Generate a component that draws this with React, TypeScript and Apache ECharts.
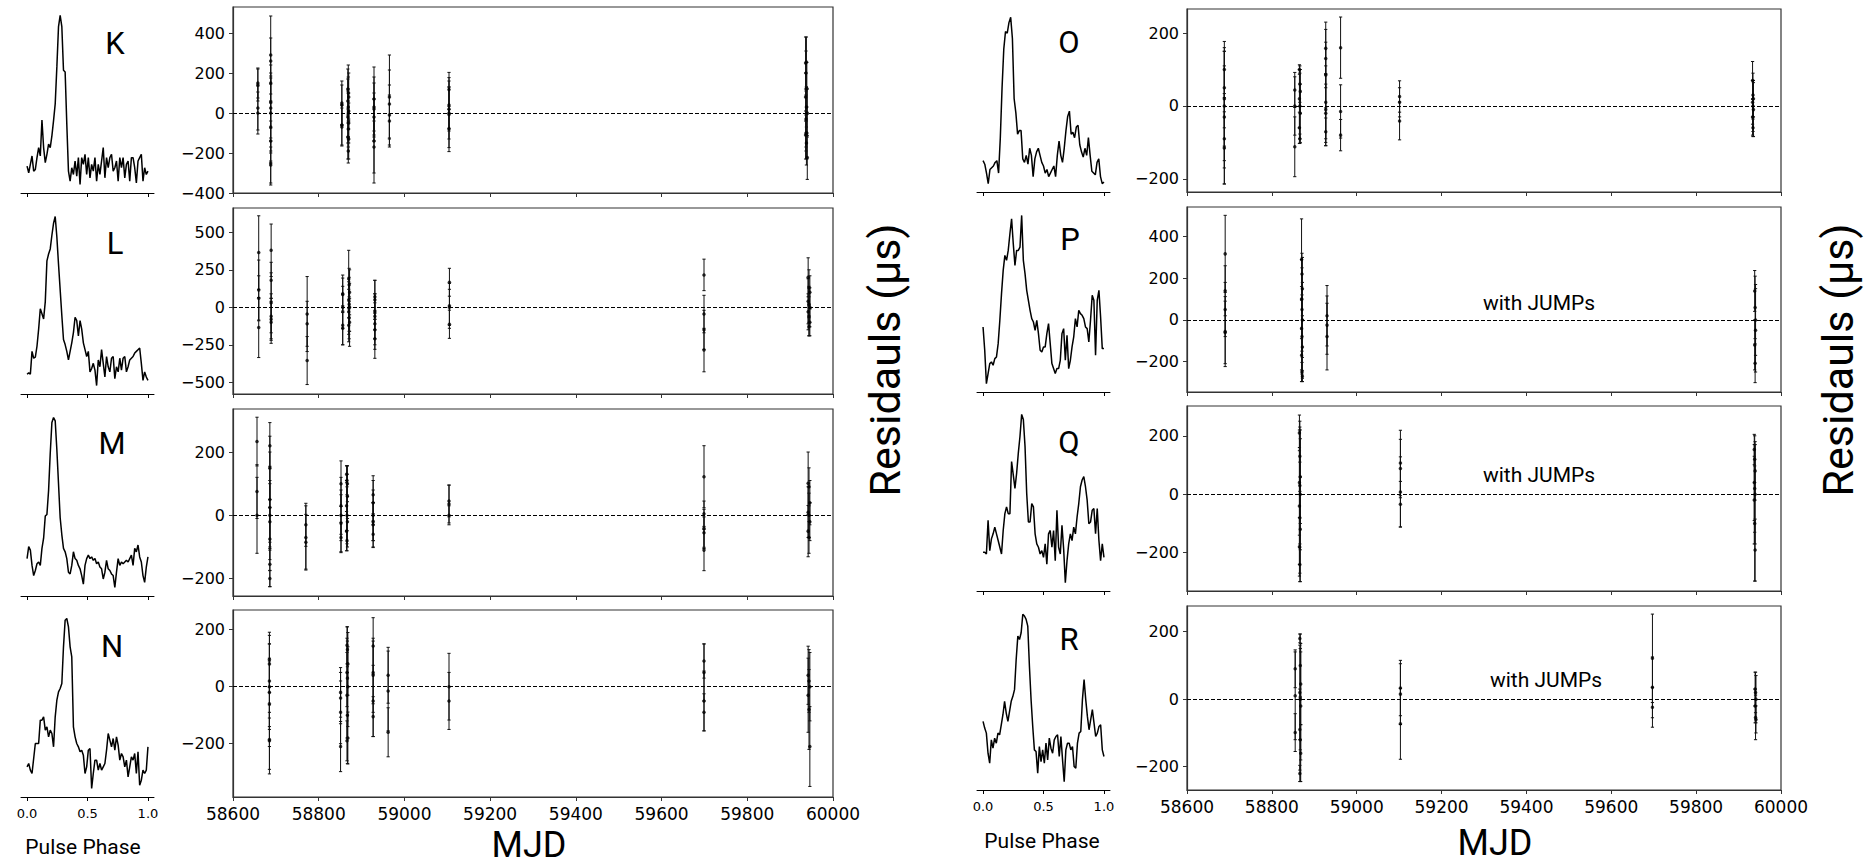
import React, { useEffect, useRef } from "react";
import * as echarts from "echarts";

type Pt = [number, number, number]; // [MJD, residual (µs), error (µs)]

// ---------------- Timing residuals ----------------
const RES_K: Pt[] = [
  [58658, 150, 75], [58658, 140, 80], [58658, 25, 110], [58658, 0, 105],
  [58688, 290, 195], [58688, 260, 115], [58688, 150, 90], [58688, 55, 130], [58688, 25, 150], [58688, -70, 120],
  [58688, -140, 100], [58688, -250, 110], [58688, -260, 90], [58688, 0, 200],
  [58854, 50, 110], [58854, 40, 100], [58854, -60, 100], [58854, -70, 95],
  [58868, 120, 100], [58869, 100, 140], [58870, 80, 120], [58868, 60, 110], [58869, 30, 150], [58870, 10, 90],
  [58869, 0, 120], [58868, -20, 130], [58870, -50, 100], [58869, -80, 90], [58868, -120, 110], [58870, -130, 100], [58869, -190, 60],
  [58929, 70, 160], [58929, 30, 150], [58929, 20, 130], [58929, -20, 120], [58929, -140, 210], [58929, -170, 130],
  [58965, 80, 210], [58965, 45, 170], [58965, -10, 150], [58965, -40, 130],
  [59104, 118, 85], [59104, 40, 120], [59104, 20, 110], [59104, 0, 130], [59104, -8, 185], [59104, -78, 95],
  [59936, 250, 130], [59938, 255, 125], [59937, 200, 110], [59939, 123, 130], [59936, 80, 120], [59938, 30, 100],
  [59940, 0, 120], [59937, -30, 140], [59939, -100, 130], [59936, -110, 120], [59938, -150, 110], [59940, -222, 110], [59937, -100, 90],
];

const RES_L: Pt[] = [
  [58660, 365, 245], [58660, 115, 200], [58660, 60, 150], [58660, -135, 200],
  [58689, 380, 175], [58689, 180, 120], [58689, 30, 200], [58689, -60, 150], [58689, -80, 140], [58689, -100, 140],
  [58773, -45, 250], [58773, -110, 150], [58773, -355, 160],
  [58856, 90, 125], [58856, 85, 110], [58856, 0, 140], [58856, -120, 130], [58856, -140, 110],
  [58870, 190, 190], [58871, 150, 110], [58872, 100, 150], [58870, 50, 120], [58871, 20, 180], [58872, 0, 160],
  [58870, -30, 150], [58871, -70, 140], [58872, -100, 160], [58870, -120, 110],
  [58931, 70, 110], [58931, 50, 130], [58931, -30, 120], [58931, -60, 150], [58931, -110, 140], [58931, -150, 130], [58931, -210, 130],
  [59105, 167, 93], [59105, 10, 150], [59105, 0, 120], [59105, -113, 94],
  [59699, 216, 105], [59699, -45, 125], [59699, -150, 130], [59699, -285, 145],
  [59942, 200, 130], [59944, 130, 120], [59946, 100, 110], [59942, 40, 150], [59944, 20, 120], [59946, 0, 130],
  [59942, -30, 120], [59944, -60, 130], [59946, -100, 90], [59944, -130, 60],
];

const RES_M: Pt[] = [
  [58656, 233, 77], [58656, 75, 85], [58656, 0, 120],
  [58686, 220, 73], [58686, 150, 100], [58686, 50, 150], [58686, 25, 130], [58686, 0, 110], [58686, -20, 120],
  [58686, -75, 100], [58686, -155, 70], [58686, -200, 26],
  [58770, -30, 68], [58770, -70, 100], [58770, -85, 88],
  [58852, 100, 72], [58852, 30, 90], [58852, 0, 80], [58852, -25, 90], [58852, -70, 48],
  [58865, 130, 27], [58866, 110, 45], [58867, 60, 70], [58865, 30, 80], [58866, 0, 90], [58867, -20, 80],
  [58865, -50, 62], [58866, -80, 32], [58867, 100, 57],
  [58927, 65, 60], [58927, 40, 70], [58927, 0, 80], [58927, -20, 60], [58927, -30, 70], [58927, -60, 42],
  [59104, 36, 60], [59104, 45, 50], [59104, 0, 30],
  [59699, 122, 98], [59699, 5, 40], [59699, -41, 60], [59699, -55, 50], [59699, -110, 65],
  [59942, 101, 99], [59944, 90, 60], [59946, 40, 70], [59942, 10, 80], [59944, 0, 70], [59946, -20, 60],
  [59942, -50, 81], [59944, -70, 50],
];

const RES_N: Pt[] = [
  [58685, 95, 96], [58685, 80, 100], [58685, 20, 130], [58685, 0, 150], [58685, -20, 120], [58685, -60, 150],
  [58685, -185, 121], [58685, -190, 100],
  [58851, -20, 87], [58851, -40, 90], [58851, -90, 110], [58851, -210, 88],
  [58866, 145, 65], [58867, 130, 80], [58868, 80, 110], [58866, 50, 120], [58867, 30, 130], [58868, 0, 140],
  [58866, -30, 150], [58867, -100, 170], [58868, -180, 91], [58866, -190, 70],
  [58927, 143, 99], [58927, 50, 110], [58927, 40, 130], [58927, -50, 125], [58927, -105, 70],
  [58962, 40, 98], [58962, -15, 140], [58962, -160, 86],
  [59104, 0, 117], [59104, -50, 100],
  [59699, 90, 60], [59699, 50, 100], [59699, -50, 105], [59699, -90, 65],
  [59942, 40, 102], [59944, 20, 110], [59946, 0, 120], [59942, -30, 130], [59944, -80, 140], [59946, -210, 140],
];

const RES_O: Pt[] = [
  [58688, 100, 77], [58688, 50, 110], [58688, 20, 130], [58688, 0, 150], [58688, -30, 140], [58688, -90, 124], [58688, -115, 99],
  [58854, 44, 48], [58854, 0, 80], [58854, -112, 82],
  [58865, 100, 13], [58866, 60, 50], [58867, 40, 60], [58865, 20, 80], [58866, 0, 90], [58867, -20, 80], [58865, -60, 43], [58866, -90, 13],
  [58927, 158, 72], [58927, 130, 80], [58927, 85, 90], [58927, 10, 100], [58927, -10, 99], [58927, -20, 80], [58927, -71, 38],
  [58962, 160, 84], [58962, -15, 73], [58962, -80, 43],
  [59101, 26, 43], [59101, 10, 40], [59101, -41, 52],
  [59933, 70, 52], [59934, 30, 60], [59935, 20, 50], [59933, 10, 60], [59934, 0, 70], [59935, -10, 74], [59933, -30, 50], [59934, -60, 24],
];

const RES_P: Pt[] = [
  [58690, 317, 185], [58690, 140, 120], [58690, 50, 130], [58690, -56, 168], [58690, -60, 150],
  [58870, 290, 195], [58871, 220, 100], [58872, 150, 150], [58870, 100, 190], [58871, 50, 200], [58872, 0, 180],
  [58870, -40, 200], [58871, -80, 180], [58872, -130, 150], [58870, -170, 126], [58871, -250, 46], [58872, -270, 26],
  [58930, 20, 145], [58930, -25, 140], [58930, -80, 160],
  [59938, 139, 98], [59939, 60, 150], [59940, 0, 170], [59938, -120, 120], [59939, -208, 93], [59940, -50, 200],
];

const RES_Q: Pt[] = [
  [58865, 210, 61], [58866, 130, 120], [58867, 60, 160], [58865, 40, 180], [58866, 30, 200], [58867, 0, 190],
  [58865, -40, 200], [58866, -80, 190], [58867, -120, 179], [58865, -180, 100], [58866, -240, 59],
  [59103, 107, 112], [59103, 88, 100], [59103, 8, 120], [59103, -34, 78],
  [59937, 153, 52], [59938, 120, 80], [59939, 80, 100], [59937, 40, 130], [59938, 20, 150], [59939, 0, 170],
  [59937, -20, 150], [59938, -100, 197], [59939, -191, 106],
];

const RES_R: Pt[] = [
  [58855, 90, 56], [58855, 10, 130], [58855, -99, 56],
  [58866, 180, 13], [58867, 100, 93], [58868, 45, 120], [58866, 20, 140], [58867, 0, 150], [58868, -20, 160],
  [58866, -90, 120], [58867, -120, 124], [58868, -160, 84], [58866, -220, 24],
  [59103, 33, 82], [59103, 15, 90], [59103, -73, 105],
  [59697, 121, 131], [59697, 35, 90], [59697, -24, 59],
  [59939, 30, 50], [59940, 20, 60], [59941, 0, 70], [59939, -20, 50], [59940, -54, 66], [59941, -60, 40],
];

// ---------------- Pulse profiles (intensity, arbitrary units, uniform phase bins 0..1) ----------------
const PROF_K = [105, 85, 110, 135, 90, 95, 130, 160, 135, 242, 160, 115, 140, 170, 160, 195, 240, 290, 400, 520, 553, 520, 390, 385, 230, 90, 60, 100, 80, 120, 75, 130, 50, 130, 110, 140, 80, 130, 70, 110, 90, 130, 60, 110, 80, 120, 160, 70, 130, 100, 130, 140, 90, 100, 120, 60, 130, 100, 130, 70, 110, 120, 60, 130, 130, 100, 55, 120, 130, 140, 60, 100, 80, 90];
const PROF_L = [88, 92, 88, 155, 135, 138, 170, 220, 280, 265, 250, 300, 420, 440, 455, 495, 530, 550, 490, 410, 335, 260, 190, 175, 155, 130, 155, 180, 210, 255, 245, 200, 245, 220, 180, 160, 140, 155, 95, 105, 120, 100, 55, 130, 110, 160, 120, 80, 140, 110, 95, 135, 140, 75, 110, 95, 135, 100, 135, 140, 95, 110, 130, 135, 140, 150, 155, 160, 165, 120, 70, 95, 80, 70];
const PROF_M = [130, 165, 155, 110, 80, 95, 115, 120, 110, 160, 190, 255, 260, 330, 440, 530, 545, 535, 450, 350, 250, 200, 160, 150, 130, 90, 85, 110, 150, 130, 125, 110, 100, 80, 55, 110, 130, 140, 130, 135, 125, 130, 115, 120, 105, 100, 70, 90, 125, 100, 95, 85, 80, 45, 90, 130, 110, 120, 115, 120, 125, 120, 130, 140, 110, 160, 150, 170, 135, 120, 80, 60, 105, 135];
const PROF_N = [100, 110, 90, 80, 125, 170, 170, 170, 240, 240, 250, 210, 220, 190, 210, 200, 160, 250, 300, 325, 335, 350, 460, 540, 545, 520, 460, 430, 220, 190, 170, 160, 145, 150, 135, 80, 100, 150, 155, 35, 80, 120, 120, 90, 110, 90, 100, 110, 150, 200, 180, 160, 185, 150, 190, 165, 120, 140, 130, 100, 120, 70, 100, 130, 120, 140, 80, 145, 45, 60, 90, 80, 90, 160];
const PROF_O = [145, 135, 110, 80, 120, 125, 130, 140, 145, 110, 210, 350, 460, 510, 505, 535, 550, 490, 320, 280, 220, 230, 230, 150, 140, 160, 135, 180, 160, 100, 150, 170, 180, 160, 140, 130, 110, 120, 100, 110, 120, 130, 100, 160, 200, 160, 140, 180, 230, 270, 285, 220, 225, 210, 240, 245, 190, 170, 155, 180, 160, 210, 160, 115, 110, 105, 140, 150, 100, 80, 85];
const PROF_P = [220, 150, 50, 80, 110, 115, 105, 125, 130, 170, 240, 320, 390, 435, 420, 450, 500, 545, 470, 405, 450, 450, 460, 555, 420, 380, 330, 300, 270, 245, 235, 210, 240, 200, 150, 145, 160, 160, 200, 230, 170, 110, 95, 80, 95, 95, 120, 200, 215, 120, 195, 95, 120, 160, 190, 245, 220, 270, 260, 255, 245, 220, 215, 175, 240, 315, 300, 135, 300, 330, 250, 155, 155];
const PROF_Q = [145, 145, 140, 240, 150, 185, 200, 220, 200, 180, 160, 140, 210, 260, 280, 260, 260, 415, 375, 335, 380, 440, 490, 555, 540, 460, 320, 235, 235, 290, 280, 200, 170, 160, 140, 150, 130, 170, 110, 200, 210, 160, 210, 120, 270, 160, 140, 225, 155, 55, 120, 170, 200, 180, 220, 200, 250, 290, 340, 360, 370, 340, 300, 230, 235, 270, 275, 200, 275, 180, 120, 170, 130];
const PROF_R = [235, 215, 200, 140, 110, 180, 155, 185, 170, 200, 195, 225, 255, 295, 260, 235, 265, 295, 310, 330, 420, 490, 480, 500, 555, 550, 540, 520, 400, 300, 220, 150, 145, 80, 160, 115, 150, 110, 170, 120, 185, 155, 140, 180, 190, 195, 130, 190, 120, 55, 150, 170, 170, 150, 160, 100, 95, 170, 200, 205, 300, 360, 300, 250, 210, 240, 270, 230, 190, 200, 220, 225, 150, 130];

const NAMES = ["K", "L", "M", "N", "O", "P", "Q", "R"];
const RESIDUALS = [RES_K, RES_L, RES_M, RES_N, RES_O, RES_P, RES_Q, RES_R];
const PROFILES = [PROF_K, PROF_L, PROF_M, PROF_N, PROF_O, PROF_P, PROF_Q, PROF_R];
const Y_TICKS = [
  [-400, -200, 0, 200, 400],
  [-500, -250, 0, 250, 500],
  [-200, 0, 200],
  [-200, 0, 200],
  [-200, 0, 200],
  [-200, 0, 200, 400],
  [-200, 0, 200],
  [-200, 0, 200],
];
const Y_LIMITS = [
  [-400, 530], [-578, 662], [-255, 336], [-387, 269],
  [-236, 266], [-346, 542], [-331, 302], [-269, 276],
];
const JUMPS = [false, false, false, false, false, true, true, true];
const PHASE_TICKS = [0, 0.5, 1];

// ---------------- Layout ----------------
const COLS = [
  { profLeft: 21, profWidth: 133, resLeft: 233, resWidth: 600, rows: [[7, 193], [208, 394], [409, 596], [610, 797]] },
  { profLeft: 977, profWidth: 133, resLeft: 1187, resWidth: 594, rows: [[9, 192], [207, 392], [406, 591], [606, 790]] },
];
const LETTER_POS = [[115, 43], [115, 243], [112, 443], [112, 646], [1069, 42], [1070, 239], [1069, 442], [1069, 639]];
const JUMP_POS: Record<number, number[]> = { 5: [1539, 303], 6: [1539, 475], 7: [1546, 680] };

const TICK_FONT = "DejaVu Sans";
const TEXT_FONT = "Roboto";
const minus = (v: number) => String(v).replace("-", "\u2212");

export default function App() {
  const ref = useRef<HTMLDivElement>(null);
  useEffect(() => {
    document.body.style.margin = "0";
    document.body.style.overflow = "hidden";
    const chart = echarts.init(ref.current!, null, { renderer: "svg" });
    const grid: any[] = [];
    const xAxis: any[] = [];
    const yAxis: any[] = [];
    const series: any[] = [];

    NAMES.forEach((name, i) => {
      const col = COLS[i < 4 ? 0 : 1];
      const row = i % 4;
      const [top, bottom] = col.rows[row];
      const h = bottom - top;
      const isBottom = row === 3;

      // profile panel
      const gp = grid.length;
      grid.push({ left: col.profLeft, top, width: col.profWidth, height: h, containLabel: false, outerBoundsMode: "none" });
      xAxis.push({
        gridIndex: gp, type: "value", min: -0.05, max: 1.05,
        axisLine: { show: true, onZero: false, lineStyle: { color: "#000", width: 1 } },
        axisTick: { show: true, length: 4, customValues: PHASE_TICKS, lineStyle: { color: "#000" } },
        axisLabel: { show: isBottom, customValues: PHASE_TICKS, formatter: (v: number) => v.toFixed(1), fontFamily: TICK_FONT, fontSize: 13, color: "#000", margin: 10 },
        splitLine: { show: false },
      });
      yAxis.push({
        gridIndex: gp, type: "value", show: false,
        min: (v: any) => v.min - 0.05 * (v.max - v.min),
        max: (v: any) => v.max + 0.05 * (v.max - v.min),
        axisLine: { onZero: false }, splitLine: { show: false },
      });
      const prof = PROFILES[i];
      series.push({
        type: "line", xAxisIndex: gp, yAxisIndex: gp, silent: true,
        data: prof.map((v, k) => [k / (prof.length - 1), v]),
        symbol: "none", showSymbol: false,
        lineStyle: { color: "#000", width: 1.5 },
      });

      // residual panel
      const gr = grid.length;
      grid.push({
        left: col.resLeft, top, width: col.resWidth, height: h, containLabel: false, outerBoundsMode: "none",
        show: true, borderColor: "#333", borderWidth: 1.2, backgroundColor: "transparent",
      });
      xAxis.push({
        gridIndex: gr, type: "value", min: 58600, max: 60000, interval: 200,
        axisLine: { show: true, onZero: false, lineStyle: { color: "#333", width: 1.2 } },
        axisTick: { show: true, length: 4, lineStyle: { color: "#333" } },
        axisLabel: { show: isBottom, formatter: (v: number) => String(v), fontFamily: TICK_FONT, fontSize: 17, color: "#000", margin: 8, showMinLabel: true, showMaxLabel: true },
        splitLine: { show: false },
      });
      const ticks = Y_TICKS[i];
      yAxis.push({
        gridIndex: gr, type: "value", min: Y_LIMITS[i][0], max: Y_LIMITS[i][1],
        axisLine: { show: true, onZero: false, lineStyle: { color: "#333", width: 1.2 } },
        axisTick: { show: true, length: 4, customValues: ticks, lineStyle: { color: "#333" } },
        axisLabel: { show: true, customValues: ticks, formatter: minus, fontFamily: TICK_FONT, fontSize: 16, color: "#000", margin: 8 },
        splitLine: { show: false },
      });
      const res = RESIDUALS[i];
      series.push({
        type: "custom", xAxisIndex: gr, yAxisIndex: gr, silent: true,
        data: res,
        encode: { x: 0, y: 1 },
        renderItem: (params: any, api: any) => {
          const x = api.value(0), y = api.value(1), e = api.value(2);
          const t = api.coord([x, y + e]);
          const b = api.coord([x, y - e]);
          const cw = 1.6;
          const st = { stroke: "#111", lineWidth: 1 };
          return {
            type: "group",
            children: [
              { type: "line", shape: { x1: t[0], y1: t[1], x2: b[0], y2: b[1] }, style: st },
              { type: "line", shape: { x1: t[0] - cw, y1: t[1], x2: t[0] + cw, y2: t[1] }, style: st },
              { type: "line", shape: { x1: b[0] - cw, y1: b[1], x2: b[0] + cw, y2: b[1] }, style: st },
            ],
          };
        },
      });
      series.push({
        type: "scatter", xAxisIndex: gr, yAxisIndex: gr, silent: true,
        data: res.map((r) => [r[0], r[1]]),
        symbol: "circle", symbolSize: 3.5,
        itemStyle: { color: "#000" },
        markLine: {
          silent: true, symbol: ["none", "none"], label: { show: false },
          lineStyle: { type: [4, 2], color: "#000", width: 1 },
          data: [{ yAxis: 0 }],
        },
      });
    });

    const graphic: any[] = [];
    NAMES.forEach((name, i) => {
      graphic.push({
        type: "text", x: LETTER_POS[i][0], y: LETTER_POS[i][1],
        style: { text: name, fontFamily: TEXT_FONT, fontSize: 31, fill: "#000", align: "center", verticalAlign: "middle" },
      });
      if (JUMPS[i]) {
        graphic.push({
          type: "text", x: JUMP_POS[i][0], y: JUMP_POS[i][1],
          style: { text: "with JUMPs", fontFamily: TEXT_FONT, fontSize: 21, fill: "#000", align: "center", verticalAlign: "middle" },
        });
      }
    });
    [[83, 847], [1042, 841]].forEach(([x, y]) =>
      graphic.push({ type: "text", x, y, style: { text: "Pulse Phase", fontFamily: TEXT_FONT, fontSize: 21, fill: "#000", align: "center", verticalAlign: "middle" } })
    );
    [[529, 845], [1495, 843]].forEach(([x, y]) =>
      graphic.push({ type: "text", x, y, style: { text: "MJD", fontFamily: TEXT_FONT, fontSize: 36, fill: "#000", align: "center", verticalAlign: "middle" } })
    );
    [[885, 360], [1838, 360]].forEach(([x, y]) =>
      graphic.push({ type: "text", x, y, rotation: Math.PI / 2, style: { text: "Residauls (\u03bcs)", fontFamily: TEXT_FONT, fontSize: 43, fill: "#000", align: "center", verticalAlign: "middle" } })
    );

    chart.setOption({
      animation: false,
      backgroundColor: "#fff",
      grid, xAxis, yAxis, series, graphic,
    });
    return () => chart.dispose();
  }, []);
  return <div ref={ref} style={{ position: "absolute", left: 0, top: 0, width: 1870, height: 868 }} />;
}
